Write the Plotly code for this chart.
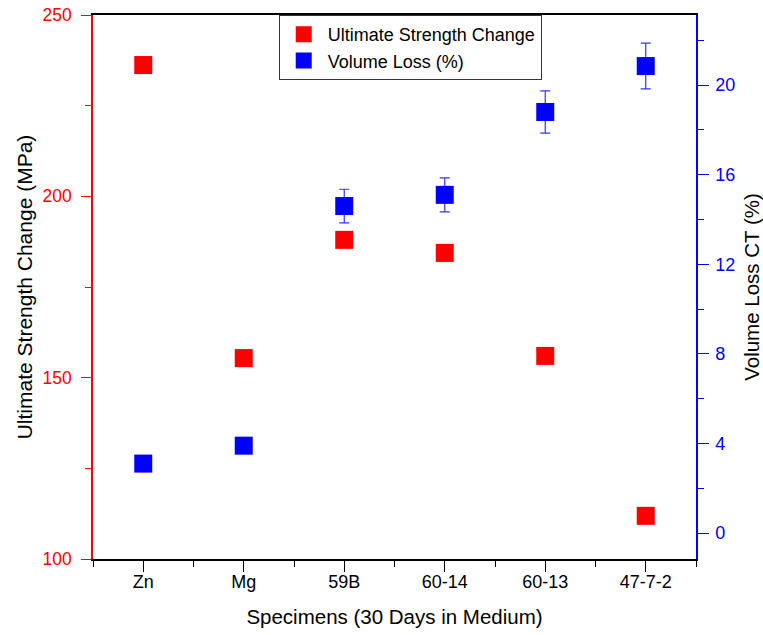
import plotly.graph_objects as go

categories = ["Zn", "Mg", "59B", "60-14", "60-13", "47-7-2"]
strength_change = [236.2, 155.4, 188.0, 184.4, 156.0, 111.9]
volume_loss = [3.1, 3.9, 14.6, 15.1, 18.8, 20.85]
volume_loss_err = [0, 0, 0.75, 0.76, 0.94, 1.02]
left_ticks = [100, 150, 200, 250]
right_ticks = [0, 4, 8, 12, 16, 20]

xpos = list(range(len(categories)))
FONT = "Liberation Sans, Arial, sans-serif"

fig = go.Figure()
fig.add_trace(go.Scatter(
    x=xpos, y=strength_change, mode="markers", name="Ultimate Strength Change",
    marker=dict(symbol="square", size=18, color="#ff0000", line=dict(width=0)),
    yaxis="y"))
fig.add_trace(go.Scatter(
    x=xpos, y=volume_loss, mode="markers", name="Volume Loss (%)",
    marker=dict(symbol="square", size=18, color="#0000ff", line=dict(width=0)),
    error_y=dict(type="data", array=volume_loss_err, visible=True,
                 color="#3333ff", thickness=1.2, width=5),
    yaxis="y2"))

fig.update_layout(
    width=763, height=635, autosize=False,
    margin=dict(l=93, r=67, t=15, b=76, autoexpand=False),
    plot_bgcolor="white", paper_bgcolor="white",
    font=dict(family=FONT, size=17, color="black"),
    showlegend=True,
    legend=dict(x=0.308, y=1.0, xanchor="left", yanchor="top",
                bordercolor="#333333", borderwidth=1, bgcolor="white",
                font=dict(family=FONT, size=18, color="black"),
                itemwidth=38, tracegroupgap=0),
    xaxis=dict(
        automargin=False,
        range=[-0.5, 5.5], tickmode="array", tickvals=xpos, ticktext=categories,
        showgrid=False, zeroline=False, showline=True, linecolor="black", linewidth=1.5,
        mirror=True, ticks="outside", ticklen=11, tickcolor="black",
        ticklabelstandoff=-5,
        minor=dict(tickmode="linear", tick0=-0.5, dtick=1, ticks="outside", ticklen=6,
                   tickcolor="black", showgrid=False),
        title=dict(text="Specimens (30 Days in Medium)", font=dict(size=20.5), standoff=18),
        tickfont=dict(size=18, color="black")),
    yaxis=dict(
        automargin=False,
        range=[100, 250], tickmode="array", tickvals=left_ticks,
        showgrid=False, zeroline=False, showline=True, linecolor="#ff0000", linewidth=1.5,
        ticks="outside", ticklen=10, tickcolor="#ff0000",
        ticklabelstandoff=6,
        minor=dict(tickmode="linear", tick0=100, dtick=25, ticks="outside", ticklen=6,
                   tickcolor="#ff0000", showgrid=False),
        tickfont=dict(size=17.5, color="#ff0000"),
        title=dict(text="Ultimate Strength Change (MPa)", font=dict(size=21, color="black"), standoff=4)),
    yaxis2=dict(
        automargin=False,
        range=[-1.16, 23.13], overlaying="y", side="right", tickmode="array", tickvals=right_ticks,
        showgrid=False, zeroline=False, showline=True, linecolor="#0000ff", linewidth=1.5,
        ticks="outside", ticklen=11, tickcolor="#0000ff",
        ticklabelstandoff=3,
        minor=dict(tickmode="linear", tick0=0, dtick=2, ticks="outside", ticklen=6,
                   tickcolor="#0000ff", showgrid=False),
        tickfont=dict(size=18, color="#0000ff"),
        title=dict(text="Volume Loss CT (%)", font=dict(size=20.5, color="black"), standoff=14)),
)

fig.write_html("out.html", config={"displayModeBar": False},
               post_script="document.body.style.margin='0';document.body.style.padding='0';")
